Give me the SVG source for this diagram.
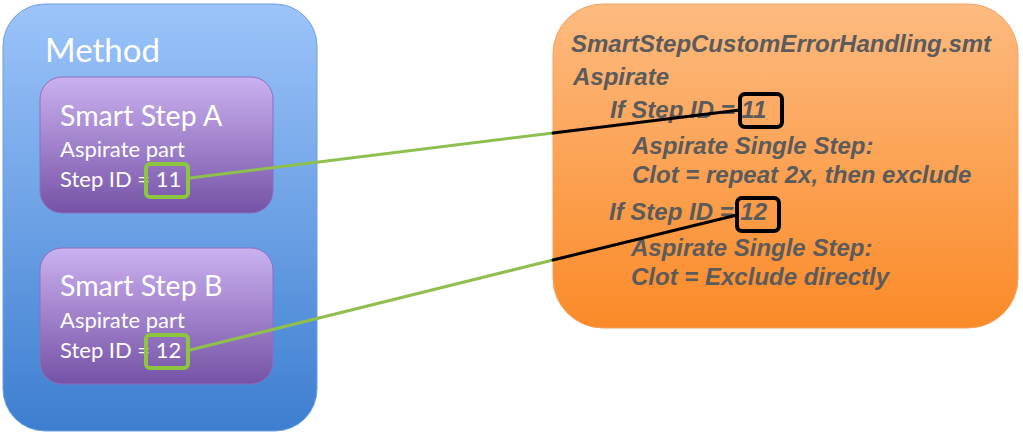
<svg xmlns="http://www.w3.org/2000/svg" width="1023" height="435" viewBox="0 0 1023 435">
<style>
.wt{font-family:Lato,"Open Sans",sans-serif;fill:#ffffff}
.ot{font-family:"Liberation Sans",Arial,sans-serif;font-weight:bold;font-style:italic;font-size:24px;fill:#5b5b5b}
.gbox{fill:none;stroke:#8cc63f;stroke-width:4}
.kbox{fill:none;stroke:#000000;stroke-width:4}
.purple{fill:url(#gp);stroke:#8a70bf;stroke-width:1}
</style>
<defs>
<linearGradient id="gb" x1="0" y1="0" x2="0" y2="1">
<stop offset="0" stop-color="#9cc4fa"/>
<stop offset="1" stop-color="#3d7ed0"/>
</linearGradient>
<linearGradient id="gp" x1="0" y1="0" x2="0" y2="1">
<stop offset="0" stop-color="#cbb1f0"/>
<stop offset="1" stop-color="#7552a6"/>
</linearGradient>
<linearGradient id="go" x1="0" y1="0" x2="0" y2="1">
<stop offset="0" stop-color="#fdbb80"/>
<stop offset="1" stop-color="#fb8a28"/>
</linearGradient>
</defs>
<g id="method">
<rect x="3" y="4" width="314" height="427" rx="42" fill="url(#gb)" stroke="#6e9fe2" stroke-width="1"/>
<text class="wt" x="45" y="62" font-size="33">Method</text>
</g>
<g id="stepA">
<rect class="purple" x="40" y="77" width="233" height="136" rx="22"/>
<text class="wt" x="60" y="126" font-size="28.5">Smart Step A</text>
<text class="wt" x="60" y="157" font-size="22">Aspirate part</text>
<text class="wt" x="60" y="187" font-size="22">Step ID = 11</text>
<rect class="gbox" x="146" y="164" width="42" height="33" rx="4"/>
</g>
<g id="stepB">
<rect class="purple" x="40" y="248" width="233" height="136" rx="22"/>
<text class="wt" x="60" y="296" font-size="28.5">Smart Step B</text>
<text class="wt" x="60" y="328" font-size="22">Aspirate part</text>
<text class="wt" x="60" y="358" font-size="22">Step ID = 12</text>
<rect class="gbox" x="146" y="335" width="42" height="33" rx="4"/>
</g>
<g id="script">
<rect x="553" y="4" width="465" height="324" rx="50" fill="url(#go)" stroke="#f4a060" stroke-width="1"/>
<text class="ot" x="571" y="52">SmartStepCustomErrorHandling.smt</text>
<text class="ot" x="573" y="85">Aspirate</text>
<text class="ot" x="610" y="118">If Step ID = 11</text>
<text class="ot" x="632" y="154">Aspirate Single Step:</text>
<text class="ot" x="632" y="183">Clot = repeat 2x, then exclude</text>
<text class="ot" x="609" y="220">If Step ID = 12</text>
<text class="ot" x="631" y="256">Aspirate Single Step:</text>
<text class="ot" x="631" y="285">Clot = Exclude directly</text>
<rect class="kbox" x="740" y="94" width="42" height="33" rx="5"/>
<rect class="kbox" x="737" y="198" width="42" height="33" rx="5"/>
</g>
<g id="connectors" fill="none" stroke-width="3" stroke-linecap="round">
<line x1="190" y1="178" x2="553" y2="133" stroke="#8fbf4f"/>
<line x1="553" y1="133" x2="740" y2="110" stroke="#000000"/>
<line x1="190" y1="350" x2="553" y2="260" stroke="#8fbf4f"/>
<line x1="553" y1="260" x2="737" y2="215" stroke="#000000"/>
</g>
</svg>
